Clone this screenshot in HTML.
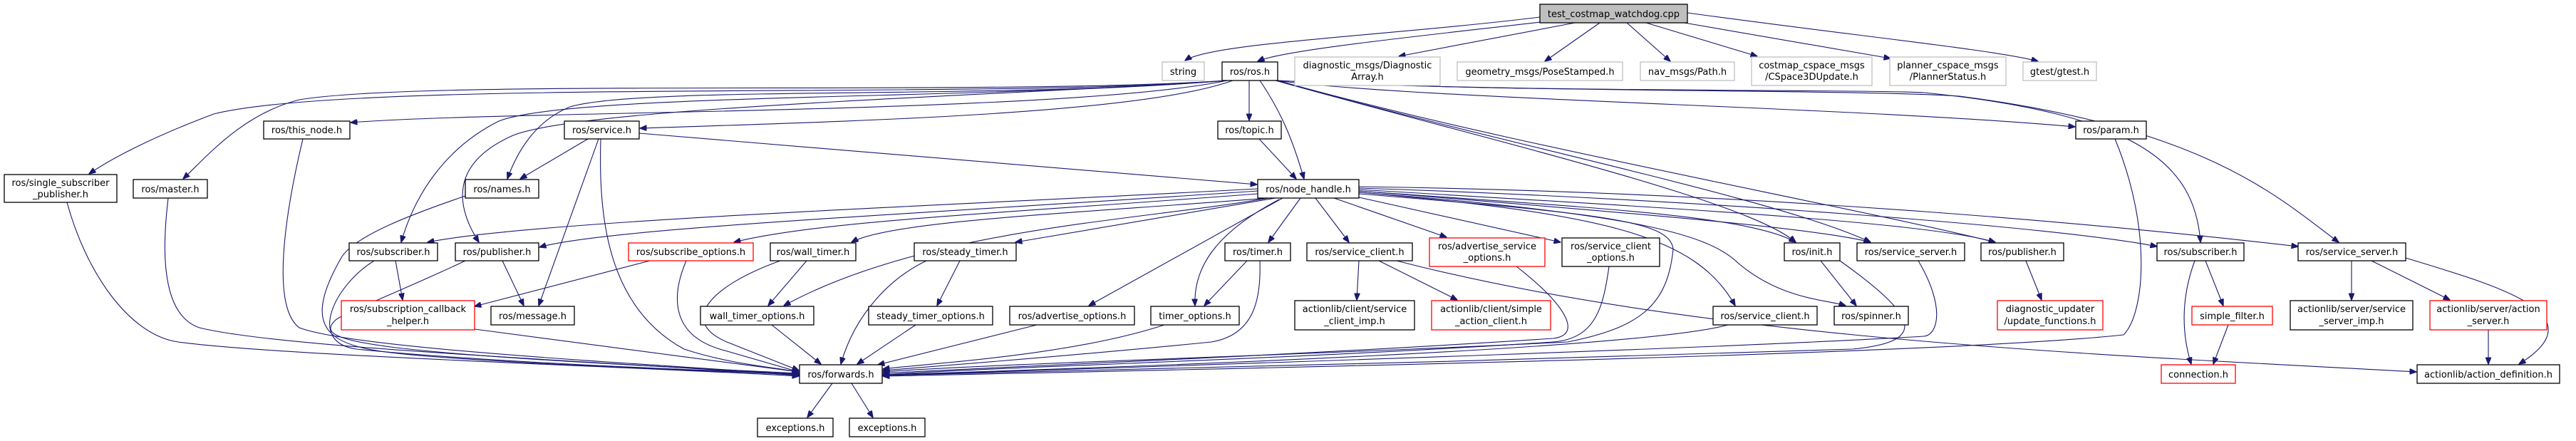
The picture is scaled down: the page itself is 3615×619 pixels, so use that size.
<!DOCTYPE html>
<html><head><meta charset="utf-8"><style>
html,body{margin:0;padding:0;background:#fff;}
svg{display:block;}
text{font-family:"DejaVu Sans","Liberation Sans",sans-serif;font-size:13px;fill:#000;text-anchor:middle;}
.n rect{fill:#fff;stroke:#000;stroke-width:1.3;}
.g rect{fill:#fff;stroke:#bfbfbf;stroke-width:1.3;}
.r rect{fill:#fff;stroke:#ff0000;stroke-width:1.3;}
.e path{fill:none;stroke:#191970;stroke-width:1.1;marker-end:url(#a);}
</style></head><body>
<svg width="3615" height="619" viewBox="0 0 3615 619" xmlns="http://www.w3.org/2000/svg">
<defs><marker id="a" markerWidth="10" markerHeight="8" refX="9.5" refY="4" orient="auto" markerUnits="userSpaceOnUse"><path d="M0,0 L10,4 L0,8 z" fill="#191970" stroke="#191970"/></marker></defs>
<g class="e">
<path d="M2161,24 C1950,50 1700,60 1663,85"/>
<path d="M2170,30 C2000,50 1800,70 1765,86"/>
<path d="M2210,32 L1963,79"/>
<path d="M2245,32 L2168,86"/>
<path d="M2283,32 L2344,86"/>
<path d="M2310,32 L2466,79"/>
<path d="M2352,30 L2653,82"/>
<path d="M2368,18 C2600,50 2800,70 2860,86"/>
<path d="M1753,113 L1753,169"/>
<path d="M1768,113 C1800,160 1815,200 1830,251"/>
<path d="M1722,113 C1500,160 700,155 492,172"/>
<path d="M1730,113 C1600,160 1200,170 898,180"/>
<path d="M1722,113 C1400,140 500,110 300,160 C220,190 160,220 125,244"/>
<path d="M1722,113 C1400,135 600,110 420,140 C340,160 290,220 257,251"/>
<path d="M1722,113 C1400,140 900,120 800,150 C750,170 725,215 712,251"/>
<path d="M1722,113 C1400,140 800,130 700,170 C620,210 580,280 563,340"/>
<path d="M1722,113 C1400,135 820,150 720,190 C630,230 640,290 672,340"/>
<path d="M1790,113 C2000,140 2600,150 2912,178"/>
<path d="M1790,113 C2100,200 2450,280 2520,340"/>
<path d="M1790,113 C2100,200 2500,280 2625,340"/>
<path d="M1793,113 C2100,200 2600,290 2800,340"/>
<path d="M1793,113 C2100,130 2600,125 2700,130 C3000,160 3080,230 3088,340"/>
<path d="M1793,113 C2100,130 2600,125 2750,135 C3100,180 3200,280 3282,340"/>
<path d="M825,195 L730,251"/>
<path d="M840,195 L756,429"/>
<path d="M897,187 L1764,259"/>
<path d="M843,195 C840,300 850,430 960,490 C1020,510 1080,515 1121,522"/>
<path d="M1767,195 L1819,251"/>
<path d="M1765,265 C1300,290 750,310 600,340"/>
<path d="M1765,268 C1300,300 850,320 757,347"/>
<path d="M1765,272 C1400,300 1150,310 1030,340"/>
<path d="M1780,278 C1500,300 1250,310 1195,340"/>
<path d="M1780,278 C1600,310 1300,320 1100,429"/>
<path d="M1790,278 L1425,340"/>
<path d="M1800,278 L1528,429"/>
<path d="M1795,280 C1700,330 1675,380 1677,429"/>
<path d="M1825,278 L1780,340"/>
<path d="M1846,278 L1893,340"/>
<path d="M1872,278 L2030,333"/>
<path d="M1907,277 L2190,340"/>
<path d="M1907,272 C2250,300 2345,310 2348,350 C2340,430 2300,460 2200,480 C1800,500 1400,510 1239,522"/>
<path d="M1907,268 C2200,290 2450,300 2520,340"/>
<path d="M1907,268 C2300,300 2550,320 2625,340"/>
<path d="M1907,266 C2300,290 2700,310 2800,340"/>
<path d="M1907,270 C2250,300 2380,330 2435,429"/>
<path d="M1907,270 C2300,300 2400,330 2440,370 C2500,420 2560,420 2590,429"/>
<path d="M1907,264 C2400,280 2900,320 3027,346"/>
<path d="M1907,262 C2500,270 3000,320 3225,346"/>
<path d="M555,366 L565,421"/>
<path d="M705,366 L735,429"/>
<path d="M912,366 L666,430"/>
<path d="M1132,366 L1078,429"/>
<path d="M1347,366 L1315,429"/>
<path d="M1750,366 L1690,429"/>
<path d="M1907,366 L1904,421"/>
<path d="M1935,366 L2045,421"/>
<path d="M1960,366 C2400,480 3000,500 3391,522"/>
<path d="M1168,538 L1133,586"/>
<path d="M1195,538 L1225,586"/>
<path d="M2555,366 L2605,429"/>
<path d="M2843,366 L2865,421"/>
<path d="M3095,366 L3120,429"/>
<path d="M3080,366 C3060,420 3062,470 3075,511"/>
<path d="M3127,456 L3106,511"/>
<path d="M3300,366 L3300,421"/>
<path d="M3328,366 L3438,421"/>
<path d="M3376,362 C3500,400 3650,440 3535,511"/>
<path d="M3492,463 L3492,511"/>
<path d="M94,284 C120,380 180,470 250,480 C400,500 900,515 1121,528"/>
<path d="M236,278 C230,330 220,440 280,460 C400,490 900,510 1121,527"/>
<path d="M425,195 C400,300 380,430 420,460 C500,490 900,510 1121,526"/>
<path d="M653,275 C580,300 500,330 480,360 C410,480 480,490 600,500 C800,515 1000,520 1121,526"/>
<path d="M525,366 C470,400 430,480 500,490 C700,510 1000,520 1121,525"/>
<path d="M653,366 C560,410 480,440 470,450 C440,480 500,495 1121,524"/>
<path d="M666,462 L1121,522"/>
<path d="M963,366 C940,420 945,470 1010,490 L1121,522"/>
<path d="M1095,366 C1000,400 950,450 1020,480 L1121,520"/>
<path d="M1083,456 L1152,511"/>
<path d="M1300,366 C1250,390 1200,440 1180,511"/>
<path d="M1285,456 L1203,511"/>
<path d="M1455,456 L1232,512"/>
<path d="M1634,456 C1500,500 1300,510 1239,518"/>
<path d="M1768,366 C1770,420 1760,470 1700,480 C1500,500 1300,515 1239,520"/>
<path d="M2128,374 C2200,430 2220,470 2180,475 C1800,500 1400,515 1239,524"/>
<path d="M2258,374 C2250,430 2240,475 2180,480 C1800,505 1400,515 1239,526"/>
<path d="M2425,456 C2300,490 1600,515 1239,526"/>
<path d="M2582,366 C2700,450 2700,480 2600,490 C2200,505 1500,520 1239,527"/>
<path d="M2692,366 C2730,430 2720,470 2700,472 C2400,490 1600,515 1239,527"/>
<path d="M2968,195 C3020,320 3010,440 2980,470 C2700,500 1600,520 1239,528"/>
</g>
<g><rect x="2161" y="6" width="207" height="26" fill="#bfbfbf" stroke="#000" stroke-width="1.3"/><text x="2264.5" y="24">test_costmap_watchdog.cpp</text></g>
<g class="g"><rect x="1631" y="87" width="59" height="26"/><text x="1660.5" y="105">string</text></g>
<g class="n"><rect x="1715" y="87" width="78" height="26"/><text x="1754" y="105">ros/ros.h</text></g>
<g class="g"><rect x="1817" y="80" width="204" height="40"/><text x="1919" y="96">diagnostic_msgs/Diagnostic</text><text x="1919" y="112">Array.h</text></g>
<g class="g"><rect x="2045" y="87" width="232" height="26"/><text x="2161" y="105">geometry_msgs/PoseStamped.h</text></g>
<g class="g"><rect x="2302" y="87" width="132" height="26"/><text x="2368" y="105">nav_msgs/Path.h</text></g>
<g class="g"><rect x="2458" y="80" width="169" height="40"/><text x="2542.5" y="96">costmap_cspace_msgs</text><text x="2542.5" y="112">/CSpace3DUpdate.h</text></g>
<g class="g"><rect x="2652" y="80" width="163" height="40"/><text x="2733.5" y="96">planner_cspace_msgs</text><text x="2733.5" y="112">/PlannerStatus.h</text></g>
<g class="g"><rect x="2839" y="87" width="103" height="26"/><text x="2890.5" y="105">gtest/gtest.h</text></g>
<g class="n"><rect x="370" y="170" width="121" height="25"/><text x="430.5" y="187">ros/this_node.h</text></g>
<g class="n"><rect x="792" y="170" width="105" height="25"/><text x="844.5" y="187">ros/service.h</text></g>
<g class="n"><rect x="1709" y="170" width="89" height="25"/><text x="1753.5" y="187">ros/topic.h</text></g>
<g class="n"><rect x="2913" y="170" width="99" height="25"/><text x="2962.5" y="187">ros/param.h</text></g>
<g class="n"><rect x="6" y="245" width="158" height="39"/><text x="85" y="261">ros/single_subscriber</text><text x="85" y="277">_publisher.h</text></g>
<g class="n"><rect x="187" y="252" width="104" height="26"/><text x="239" y="270">ros/master.h</text></g>
<g class="n"><rect x="653" y="252" width="103" height="26"/><text x="704.5" y="270">ros/names.h</text></g>
<g class="n"><rect x="1765" y="252" width="142" height="26"/><text x="1836" y="270">ros/node_handle.h</text></g>
<g class="n"><rect x="490" y="341" width="124" height="25"/><text x="552" y="358">ros/subscriber.h</text></g>
<g class="n"><rect x="639" y="341" width="117" height="25"/><text x="697.5" y="358">ros/publisher.h</text></g>
<g class="r"><rect x="882" y="341" width="175" height="25"/><text x="969.5" y="358">ros/subscribe_options.h</text></g>
<g class="n"><rect x="1081" y="341" width="120" height="25"/><text x="1141" y="358">ros/wall_timer.h</text></g>
<g class="n"><rect x="1283" y="341" width="143" height="25"/><text x="1354.5" y="358">ros/steady_timer.h</text></g>
<g class="n"><rect x="1719" y="341" width="92" height="25"/><text x="1765" y="358">ros/timer.h</text></g>
<g class="n"><rect x="1834" y="341" width="148" height="25"/><text x="1908" y="358">ros/service_client.h</text></g>
<g class="r"><rect x="2006" y="334" width="162" height="40"/><text x="2087" y="350">ros/advertise_service</text><text x="2087" y="366">_options.h</text></g>
<g class="n"><rect x="2192" y="334" width="137" height="40"/><text x="2260.5" y="350">ros/service_client</text><text x="2260.5" y="366">_options.h</text></g>
<g class="n"><rect x="2504" y="341" width="78" height="25"/><text x="2543" y="358">ros/init.h</text></g>
<g class="n"><rect x="2606" y="341" width="151" height="25"/><text x="2681.5" y="358">ros/service_server.h</text></g>
<g class="n"><rect x="2780" y="341" width="116" height="25"/><text x="2838" y="358">ros/publisher.h</text></g>
<g class="n"><rect x="3027" y="341" width="122" height="25"/><text x="3088" y="358">ros/subscriber.h</text></g>
<g class="n"><rect x="3225" y="341" width="151" height="25"/><text x="3300.5" y="358">ros/service_server.h</text></g>
<g class="r"><rect x="479" y="422" width="187" height="41"/><text x="572.5" y="438">ros/subscription_callback</text><text x="572.5" y="455">_helper.h</text></g>
<g class="n"><rect x="689" y="430" width="117" height="26"/><text x="747.5" y="448">ros/message.h</text></g>
<g class="n"><rect x="983" y="430" width="159" height="26"/><text x="1062.5" y="448">wall_timer_options.h</text></g>
<g class="n"><rect x="1219" y="430" width="174" height="26"/><text x="1306" y="448">steady_timer_options.h</text></g>
<g class="n"><rect x="1417" y="430" width="175" height="26"/><text x="1504.5" y="448">ros/advertise_options.h</text></g>
<g class="n"><rect x="1615" y="430" width="124" height="26"/><text x="1677" y="448">timer_options.h</text></g>
<g class="n"><rect x="1817" y="422" width="168" height="41"/><text x="1901" y="438">actionlib/client/service</text><text x="1901" y="455">_client_imp.h</text></g>
<g class="r"><rect x="2009" y="422" width="167" height="41"/><text x="2092.5" y="438">actionlib/client/simple</text><text x="2092.5" y="455">_action_client.h</text></g>
<g class="n"><rect x="2404" y="430" width="146" height="26"/><text x="2477" y="448">ros/service_client.h</text></g>
<g class="n"><rect x="2574" y="430" width="104" height="26"/><text x="2626" y="448">ros/spinner.h</text></g>
<g class="r"><rect x="2803" y="422" width="148" height="41"/><text x="2877" y="438">diagnostic_updater</text><text x="2877" y="455">/update_functions.h</text></g>
<g class="r"><rect x="3076" y="430" width="113" height="26"/><text x="3132.5" y="448">simple_filter.h</text></g>
<g class="n"><rect x="3214" y="422" width="172" height="41"/><text x="3300" y="438">actionlib/server/service</text><text x="3300" y="455">_server_imp.h</text></g>
<g class="r"><rect x="3410" y="422" width="164" height="41"/><text x="3492" y="438">actionlib/server/action</text><text x="3492" y="455">_server.h</text></g>
<g class="n"><rect x="1122" y="512" width="116" height="26"/><text x="1180" y="530">ros/forwards.h</text></g>
<g class="r"><rect x="3033" y="512" width="104" height="26"/><text x="3085" y="530">connection.h</text></g>
<g class="n"><rect x="3392" y="512" width="200" height="26"/><text x="3492" y="530">actionlib/action_definition.h</text></g>
<g class="n"><rect x="1063" y="587" width="106" height="26"/><text x="1116" y="605">exceptions.h</text></g>
<g class="n"><rect x="1192" y="587" width="106" height="26"/><text x="1245" y="605">exceptions.h</text></g>
</svg>
</body></html>
